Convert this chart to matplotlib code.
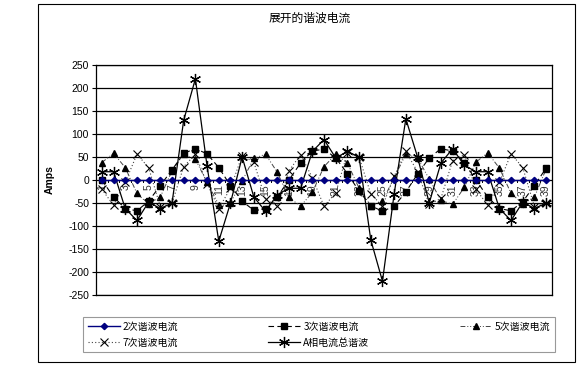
import matplotlib
matplotlib.use("Agg")
import matplotlib.pyplot as plt
from matplotlib.patches import Rectangle
from matplotlib.lines import Line2D

plt.rcParams['font.family'] = ['Noto Sans CJK SC', 'DejaVu Sans']

categories = list(range(1, 40))
tick_labels = [str(c) if c % 2 == 1 else "" for c in categories]

h2 = [0, 0, 0, 0, 0, 0, 0, 0, 0, 0, 0, 0, 0, 0, 0, 0, 0, 0, 0, 0,
      0, 0, 0, 0, 0, 0, 0, 0, 0, 0, 0, 0, 0, 0, 0, 0, 0, 0, 0]
h3 = [0, -37, -62, -67, -46, -12, 22, 58, 68, 57, 27, -12, -46, -66, -64, -37,
      0, 37, 63, 67, 48, 14, -24, -56, -68, -57, -26, 13, 48, 68, 63, 38,
      0, -37, -62, -67, -47, -12, 26]
h5 = [38, 58, 27, -29, -53, -37, 20, 56, 45, -5, -54, -50, -2, 47, 56, 17,
      -38, -57, -27, 29, 56, 37, -18, -56, -46, 5, 56, 48, 2, -44, -53, -16,
      39, 59, 26, -29, -52, -37, 24]
h7 = [-20, -55, -5, 56, 27, -58, -50, 29, 56, -8, -62, -18, 53, 39, -42, -57,
      20, 55, 5, -57, -28, 58, 50, -30, -57, 8, 62, 18, -53, -40, 42, 55,
      -20, -55, -5, 57, 27, -58, -50]
total = [18, 18, -62, -88, -48, -62, -50, 130, 220, 30, -133, -50, 50, -37, -68, -32,
         -18, -18, 62, 88, 48, 62, 50, -130, -220, -30, 133, 50, -50, 37, 68, 32,
         18, 18, -62, -88, -48, -62, -50]

series_names = ["2次谐波电流", "3次谐波电流", "5次谐波电流", "7次谐波电流", "A相电流总谐波"]
title = "展开的谐波电流"
y_ticks = [-250, -200, -150, -100, -50, 0, 50, 100, 150, 200, 250]

fig = plt.figure(figsize=(5.84, 3.70), dpi=100)
ax = fig.add_axes([0.1644, 0.2027, 0.7808, 0.6216])

x = categories
l_tot, = ax.plot(x, total, color='black', lw=0.9, marker=(6, 2, 0), ms=8, mew=0.9, zorder=6)
l2, = ax.plot(x, h2, color='#000080', lw=1.0, marker='D', ms=3.2, mfc='#000080', mec='#000080', zorder=7)
l3, = ax.plot(x, h3, color='black', lw=0.8, ls=(0, (5, 3)), marker='s', ms=3.8, zorder=5)
l5, = ax.plot(x, h5, color='#444444', lw=0.7, ls=(0, (5, 2, 1, 2, 1, 2)), marker='^', ms=4.2,
              mfc='black', mec='black', zorder=4)
l7, = ax.plot(x, h7, color='#444444', lw=0.8, ls=(0, (1, 2)), marker='x', ms=6, mew=0.8,
              mec='black', zorder=4)

ax.set_xlim(0.5, 39.5)
ax.set_ylim(-250, 250)
ax.set_yticks(y_ticks)
ax.set_yticklabels([str(v) for v in y_ticks], fontsize=7.5, family='Liberation Sans')
ax.yaxis.grid(True, color='black', lw=0.9)
ax.set_axisbelow(True)
ax.tick_params(axis='y', length=3, width=0.8, direction='out', pad=2)
ax.set_xticks([])
for s in ax.spines.values():
    s.set_color('black')
    s.set_linewidth(0.9)

# category axis at zero
for i in range(40):
    ax.plot([i + 0.5, i + 0.5], [0, -5], color='black', lw=0.7, zorder=3)
for c, lab in zip(categories, tick_labels):
    if lab:
        ax.annotate(lab, (c, 0), xytext=(0, -3), textcoords='offset points',
                    rotation=90, ha='center', va='top', fontsize=7.5,
                    family='Liberation Sans', color='#333333', zorder=2)

ax.set_ylabel("Amps", fontsize=7.5, fontweight='bold', family='Liberation Sans', labelpad=10)
fig.text(0.53, 0.951, title, ha='center', va='center', fontsize=8.5)

handles = [l2, l7, l3, l_tot, l5]
labels = [series_names[0], series_names[3], series_names[1], series_names[4], series_names[2]]
leg = fig.legend(handles, labels, ncol=3, loc='lower left',
                 bbox_to_anchor=(83 / 584, (370 - 352) / 370, (555 - 83) / 584, 40 / 370),
                 mode='expand', fontsize=7.2, frameon=True, fancybox=False,
                 edgecolor='#808080', handlelength=3.2, borderpad=0.45, labelspacing=0.6,
                 handletextpad=0.3, borderaxespad=0)
leg.get_frame().set_linewidth(0.8)

fig.add_artist(Rectangle((38 / 584, 8 / 370), (575 - 38) / 584, (366 - 8) / 370,
                         transform=fig.transFigure, fill=False, edgecolor='black', lw=0.8))

fig.savefig("out.png", dpi=100)
